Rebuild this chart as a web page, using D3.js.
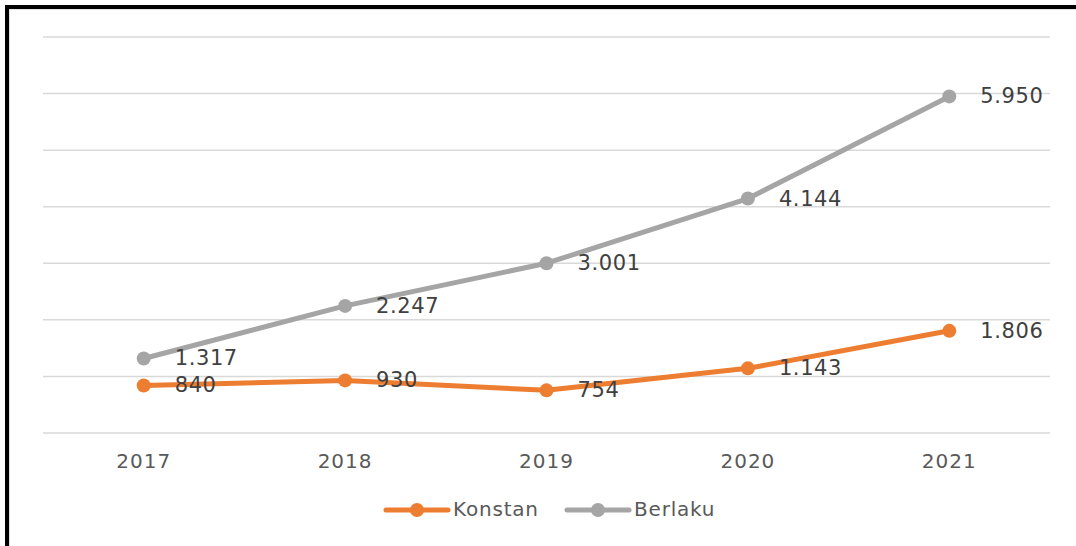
<!DOCTYPE html>
<html lang="id">
<head>
<meta charset="UTF-8">
<title>Konstan vs Berlaku</title>
<script src="https://d3js.org/d3.v7.min.js"></script>
<style>
  body { margin: 0; background: #fff; }
  svg { display: block; font-family: "DejaVu Sans", "Noto Sans", sans-serif; }
</style>
</head>
<body>
<div id="chart"></div>
<script>
// data
const years = ["2017", "2018", "2019", "2020", "2021"];
const konstan = [840, 930, 754, 1143, 1806];
const berlaku = [1317, 2247, 3001, 4144, 5950];
const seriesNames = ["Konstan", "Berlaku"];
const seriesColors = ["#ED7D31", "#A5A5A5"];

const width = 1076, height = 546;
const margin = { top: 37, right: 26, bottom: 113, left: 43 };

const svg = d3.select("#chart").append("svg")
    .attr("width", width)
    .attr("height", height);

// frame (black top/left edge like the cropped screenshot)
svg.append("rect").attr("x", 9).attr("y", 9).attr("width", width).attr("height", height)
    .attr("fill", "none").attr("stroke", "#d9d9d9").attr("stroke-width", 1.5);
svg.append("line").attr("x1", 5).attr("x2", width).attr("y1", 7).attr("y2", 7)
    .attr("stroke", "#000").attr("stroke-width", 4);
svg.append("line").attr("x1", 7).attr("x2", 7).attr("y1", 5).attr("y2", height)
    .attr("stroke", "#000").attr("stroke-width", 4);

const x = d3.scaleBand()
    .domain(years)
    .range([margin.left, width - margin.right]);

const y = d3.scaleLinear()
    .domain([0, 7000])
    .range([height - margin.bottom, margin.top]);

// gridlines
svg.append("g")
    .selectAll("line")
    .data(y.ticks(7))
    .join("line")
    .attr("x1", margin.left)
    .attr("x2", width - margin.right)
    .attr("y1", d => y(d))
    .attr("y2", d => y(d))
    .attr("stroke", "#d9d9d9")
    .attr("stroke-width", 1.5);

// x axis labels
const xAxis = svg.append("g")
    .attr("transform", "translate(0," + (height - margin.bottom) + ")")
    .call(d3.axisBottom(x).tickSize(0).tickPadding(21));
xAxis.select(".domain").remove();
xAxis.selectAll("text")
    .attr("fill", "#595959")
    .attr("font-size", "20px")
    .attr("letter-spacing", "1px")
    .attr("font-family", "\"DejaVu Sans\", sans-serif");

const cx = d => x(d) + x.bandwidth() / 2;
const fmt = v => d3.format(",")(v).replace(/,/g, ".");

const allSeries = [konstan, berlaku];

// draw berlaku first, then konstan on top
[1, 0].forEach(i => {
    const vals = allSeries[i];
    const pts = years.map((yr, j) => ({ yr: yr, v: vals[j] }));
    const g = svg.append("g");

    g.append("path")
        .datum(pts)
        .attr("fill", "none")
        .attr("stroke", seriesColors[i])
        .attr("stroke-width", 5)
        .attr("stroke-linejoin", "round")
        .attr("d", d3.line().x(d => cx(d.yr)).y(d => y(d.v)));

    g.selectAll("circle")
        .data(pts)
        .join("circle")
        .attr("cx", d => cx(d.yr))
        .attr("cy", d => y(d.v))
        .attr("r", 7)
        .attr("fill", seriesColors[i]);

    g.selectAll("text")
        .data(pts)
        .join("text")
        .attr("x", d => cx(d.yr) + 31)
        .attr("y", d => y(d.v) + 1)
        .attr("dominant-baseline", "middle")
        .attr("fill", "#404040")
        .attr("font-size", "21px")
        .attr("letter-spacing", "0.6px")
        .text(d => fmt(d.v));
});

// legend
const legendX = [386, 567];
const legendY = 510;
seriesNames.forEach((name, i) => {
    const lg = svg.append("g").attr("transform", "translate(" + legendX[i] + "," + legendY + ")");
    lg.append("line")
        .attr("x1", 0).attr("x2", 62)
        .attr("stroke", seriesColors[i])
        .attr("stroke-width", 5)
        .attr("stroke-linecap", "round");
    lg.append("circle").attr("cx", 31).attr("r", 7).attr("fill", seriesColors[i]);
    lg.append("text")
        .attr("x", 67)
        .attr("dominant-baseline", "middle")
        .attr("fill", "#595959")
        .attr("font-size", "20px")
        .attr("letter-spacing", "0.8px")
        .text(name);
});
</script>
</body>
</html>
